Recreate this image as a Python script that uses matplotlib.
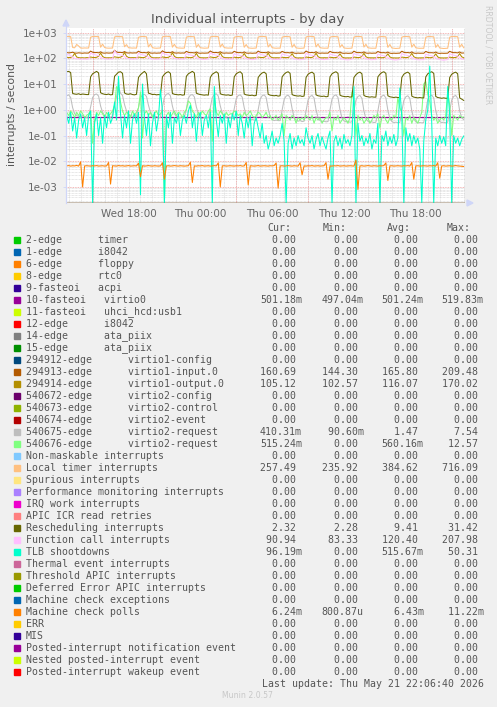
import numpy as np
import pandas as pd
import matplotlib
matplotlib.use("Agg")
import matplotlib.pyplot as plt
from matplotlib.patches import Rectangle
from matplotlib.ticker import FixedLocator, NullLocator

# ---------------- data ----------------
times = pd.date_range("2026-05-20 12:50", periods=200, freq="10min")

loc_timer = (
    [700, 705, 690, 262, 255, 345, 300, 250, 248, 252, 250]
    + [251, 660, 700, 706, 700, 695, 268, 355, 262, 250, 247, 249]
    + [250, 672, 712, 700, 698, 690, 280, 340, 256, 252, 249, 251]
    + [248, 650, 695, 704, 699, 685, 275, 362, 258, 249, 246, 250]
    + [252, 680, 708, 716, 702, 694, 270, 350, 260, 251, 248, 247]
    + [249, 665, 698, 702, 696, 688, 266, 345, 255, 250, 247, 249]
    + [251, 670, 705, 710, 700, 692, 272, 358, 259, 252, 249, 250]
    + [248, 655, 690, 700, 695, 684, 268, 342, 254, 248, 245, 247]
    + [250, 668, 702, 708, 700, 690, 274, 352, 257, 250, 246, 249]
    + [247, 660, 696, 703, 697, 686, 268, 346, 253, 247, 244, 246]
    + [249, 672, 706, 712, 701, 693, 276, 360, 258, 250, 247, 248]
    + [246, 658, 694, 701, 696, 685, 266, 340, 252, 246, 243, 245]
    + [248, 666, 700, 707, 699, 690, 272, 350, 256, 249, 246, 247]
    + [245, 652, 692, 700, 694, 683, 265, 344, 251, 245, 241, 244]
    + [247, 664, 698, 705, 698, 688, 270, 354, 255, 248, 244, 246]
    + [244, 656, 694, 702, 695, 684, 264, 342, 250, 244, 240, 243]
    + [246, 660, 700, 706, 698, 690, 268, 350, 257]
)

resched = (
    [30, 31, 28, 4.3, 4.1, 4.0, 4.2, 3.9, 4.1, 4.0, 3.9]
    + [3.9, 19, 25, 28, 31, 27, 4.6, 4.2, 4.0, 3.9, 4.1, 3.8]
    + [3.9, 20, 24, 29, 30, 26, 4.5, 4.1, 4.0, 4.2, 3.9, 3.8]
    + [4.0, 18, 23, 27, 31, 25, 4.4, 4.2, 3.9, 4.0, 3.8, 3.9]
    + [3.8, 19, 24, 28, 30, 26, 4.3, 4.0, 3.9, 3.8, 3.9, 3.7]
    + [3.8, 20, 25, 28, 31, 27, 4.4, 4.1, 3.9, 3.8, 3.7, 3.8]
    + [3.7, 18, 24, 27, 30, 26, 4.2, 3.9, 3.8, 3.7, 3.8, 3.6]
    + [3.7, 19, 25, 28, 30, 25, 4.1, 3.8, 3.7, 3.6, 3.7, 3.5]
    + [3.6, 18, 23, 27, 29, 25, 4.0, 3.7, 3.6, 3.5, 3.6, 3.4]
    + [3.5, 19, 24, 28, 30, 26, 3.9, 3.6, 3.5, 3.4, 3.5, 3.3]
    + [3.4, 18, 24, 27, 29, 25, 3.8, 3.5, 3.4, 3.3, 3.4, 3.2]
    + [3.3, 19, 25, 28, 30, 26, 3.7, 3.4, 3.3, 3.2, 3.3, 3.1]
    + [3.2, 18, 23, 27, 29, 25, 3.6, 3.3, 3.2, 3.1, 3.2, 3.1]
    + [3.1, 19, 24, 28, 30, 26, 3.5, 3.2, 3.1, 3.0, 3.1, 3.0]
    + [3.0, 18, 24, 27, 29, 25, 3.4, 3.1, 3.0, 2.9, 3.0, 2.9]
    + [2.9, 19, 25, 28, 30, 26, 3.3, 3.0, 2.9, 2.8, 2.9, 2.8]
    + [2.8, 18, 24, 27, 29, 25, 2.9, 2.6, 2.32]
)

virtio1_input = (
    [168, 162, 165, 172, 160, 158, 163, 160, 157, 161, 159]
    + [160, 190, 172, 166, 168, 163, 178, 161, 158, 162, 159, 161]
    + [162, 205, 175, 168, 170, 165, 182, 163, 160, 163, 160, 162]
    + [161, 188, 170, 165, 167, 162, 176, 160, 158, 161, 158, 160]
    + [160, 195, 173, 167, 169, 164, 180, 162, 159, 162, 159, 161]
    + [159, 186, 170, 165, 166, 161, 175, 160, 157, 160, 158, 160]
    + [161, 192, 172, 166, 168, 163, 179, 161, 158, 161, 159, 160]
    + [160, 187, 171, 165, 167, 162, 176, 160, 157, 160, 157, 159]
    + [159, 190, 172, 166, 168, 163, 178, 161, 158, 161, 158, 160]
    + [160, 185, 170, 164, 166, 161, 174, 159, 156, 159, 157, 159]
    + [159, 191, 172, 166, 168, 163, 179, 160, 157, 160, 158, 159]
    + [158, 186, 170, 165, 166, 162, 175, 159, 156, 159, 156, 158]
    + [159, 189, 171, 165, 167, 162, 177, 160, 157, 160, 157, 159]
    + [158, 184, 169, 164, 166, 161, 174, 158, 155, 158, 156, 158]
    + [159, 188, 171, 165, 167, 162, 177, 159, 156, 159, 157, 158]
    + [157, 185, 170, 164, 165, 161, 175, 158, 155, 158, 156, 157]
    + [158, 187, 171, 165, 166, 162, 176, 159, 160.7]
)

virtio1_output = (
    [110, 106, 108, 118, 155, 112, 106, 104, 105, 103, 106]
    + [105, 112, 108, 107, 109, 120, 160, 118, 106, 104, 105, 104]
    + [106, 114, 110, 108, 110, 122, 168, 120, 107, 105, 106, 105]
    + [105, 111, 108, 106, 108, 118, 158, 116, 105, 104, 105, 104]
    + [106, 113, 109, 107, 109, 121, 165, 119, 106, 105, 106, 105]
    + [105, 111, 107, 106, 108, 118, 156, 115, 105, 104, 104, 104]
    + [106, 113, 109, 107, 109, 120, 162, 118, 106, 105, 105, 105]
    + [105, 110, 107, 106, 108, 117, 154, 114, 105, 103, 104, 104]
    + [105, 112, 108, 107, 109, 119, 160, 117, 106, 104, 105, 104]
    + [104, 110, 107, 106, 107, 117, 152, 114, 104, 103, 104, 103]
    + [105, 112, 108, 107, 108, 119, 158, 116, 105, 104, 105, 104]
    + [104, 110, 107, 105, 107, 116, 150, 113, 104, 103, 104, 103]
    + [105, 111, 108, 106, 108, 118, 156, 115, 105, 104, 104, 104]
    + [104, 109, 106, 105, 107, 116, 150, 113, 104, 103, 103, 103]
    + [105, 111, 108, 106, 108, 118, 155, 115, 105, 103, 104, 104]
    + [104, 110, 107, 105, 107, 116, 149, 113, 104, 103, 103, 103]
    + [104, 111, 107, 106, 108, 117, 152, 114, 105.1]
)

func_call = (
    [140, 135, 130, 110, 100, 96, 94, 92, 95, 93, 92]
    + [94, 160, 145, 138, 132, 128, 112, 100, 96, 93, 92, 94]
    + [95, 200, 150, 140, 135, 130, 115, 102, 97, 94, 93, 95]
    + [94, 158, 142, 136, 130, 126, 110, 99, 95, 92, 91, 93]
    + [95, 170, 146, 139, 133, 129, 113, 101, 96, 93, 92, 94]
    + [93, 155, 140, 134, 129, 125, 109, 98, 94, 91, 90, 92]
    + [94, 165, 145, 138, 132, 128, 112, 100, 95, 92, 91, 93]
    + [92, 152, 139, 133, 128, 124, 108, 97, 93, 90, 89, 91]
    + [93, 160, 143, 136, 131, 127, 111, 99, 94, 91, 90, 92]
    + [91, 150, 138, 132, 127, 123, 107, 96, 92, 89, 88, 90]
    + [92, 158, 142, 135, 130, 126, 110, 98, 93, 90, 89, 91]
    + [90, 148, 137, 131, 126, 122, 106, 95, 91, 88, 87, 89]
    + [91, 155, 141, 134, 129, 125, 109, 97, 92, 89, 88, 90]
    + [89, 147, 136, 130, 125, 121, 105, 94, 90, 87, 86, 88]
    + [90, 153, 140, 133, 128, 124, 108, 96, 91, 88, 87, 89]
    + [88, 146, 135, 129, 124, 120, 104, 93, 89, 86, 84, 87]
    + [89, 150, 138, 132, 127, 123, 107, 95, 90.9]
)

virtio2_req_a = (
    [3.5, 3.8, 3.0, 1.2, 0.7, 0.6, 0.55, 0.5, 0.6, 0.55, 0.5]
    + [0.55, 1.3, 3.0, 3.9, 4.1, 3.4, 1.4, 0.8, 0.6, 0.55, 0.6, 0.5]
    + [0.6, 1.4, 3.2, 7.5, 4.4, 3.6, 1.6, 0.9, 0.65, 0.6, 0.55, 0.6]
    + [0.55, 1.2, 2.9, 3.8, 4.0, 3.3, 1.5, 0.8, 0.6, 0.5, 0.55, 0.5]
    + [0.5, 1.3, 3.1, 4.0, 4.3, 3.5, 1.4, 0.7, 0.55, 0.5, 0.5, 0.55]
    + [0.5, 1.1, 2.8, 3.7, 3.9, 3.2, 1.3, 0.7, 0.5, 0.45, 0.5, 0.5]
    + [0.5, 1.2, 3.0, 3.9, 4.2, 3.4, 1.4, 0.75, 0.55, 0.5, 0.45, 0.5]
    + [0.45, 1.1, 2.7, 3.6, 3.8, 3.1, 1.2, 0.6, 0.45, 0.4, 0.42, 0.4]
    + [0.4, 1.0, 2.6, 3.5, 3.8, 3.0, 1.1, 0.55, 0.42, 0.38, 0.4, 0.38]
    + [0.38, 1.0, 2.5, 3.4, 3.7, 3.0, 1.1, 0.5, 0.4, 0.36, 0.38, 0.35]
    + [0.36, 0.9, 2.4, 3.3, 3.6, 2.9, 1.0, 0.5, 0.38, 0.35, 0.36, 0.34]
    + [0.35, 1.0, 2.6, 3.5, 3.8, 3.0, 1.0, 0.48, 0.37, 0.34, 0.35, 0.33]
    + [0.34, 0.9, 2.4, 3.3, 3.6, 2.8, 0.9, 0.45, 0.36, 0.33, 0.34, 0.32]
    + [0.33, 0.9, 2.5, 3.4, 3.7, 2.9, 0.95, 0.46, 0.35, 0.32, 0.33, 0.32]
    + [0.32, 0.85, 2.3, 3.2, 3.5, 2.8, 0.9, 0.44, 0.34, 0.31, 0.32, 0.31]
    + [0.32, 0.9, 2.5, 3.4, 3.7, 2.9, 0.92, 0.45, 0.35, 0.32, 0.33, 0.31]
    + [0.33, 0.9, 2.4, 3.3, 3.6, 2.8, 0.9, 0.5, 0.41]
)

virtio2_req_b = (
    [0.8, 0.6, 0.9, 0.7, 0.5, 0.8, 0.6, 0.9, 0.7, 0.5, 0.6]
    + [0.7, 0.9, 0.05, 0.4, 0.8, 0.6, 0.9, 0.7, 0.5, 0.8, 0.6, 0.7]
    + [0.9, 1.5, 8.0, 6.0, 2.0, 0.9, 0.6, 0.8, 0.7, 0.5, 0.9, 0.6]
    + [0.8, 1.2, 5.0, 0.08, 0.7, 0.9, 0.6, 0.8, 0.5, 0.7, 0.9, 0.6]
    + [0.7, 0.9, 0.0, 0.6, 0.8, 0.5, 0.7, 0.9, 0.6, 0.8, 0.7, 0.5]
    + [0.8, 1.0, 2.2, 1.8, 0.9, 0.7, 0.5, 0.8, 0.6, 0.9, 0.7, 0.6]
    + [0.9, 1.1, 0.06, 3.0, 0.8, 0.6, 0.9, 0.7, 0.5, 0.8, 0.6, 0.7]
    + [0.7, 0.9, 0.8, 0.6, 0.7, 0.5, 0.8, 0.6, 0.7, 0.9, 0.6, 0.5]
    + [0.6, 0.8, 0.7, 0.5, 0.6, 0.8, 0.5, 0.6, 0.4, 0.5, 0.6, 0.4]
    + [0.5, 0.7, 0.1, 0.6, 0.5, 0.4, 0.6, 0.5, 0.3, 0.5, 0.4, 0.5]
    + [0.4, 0.6, 0.5, 0.4, 0.6, 0.3, 0.5, 0.4, 0.5, 0.3, 0.4, 0.5]
    + [0.5, 0.8, 0.15, 0.5, 0.4, 0.6, 0.3, 0.4, 0.5, 0.4, 0.3, 0.5]
    + [5.0, 2.0, 0.1, 0.6, 0.4, 0.5, 0.3, 0.4, 0.5, 0.3, 0.4, 0.6]
    + [0.5, 0.7, 0.2, 0.5, 0.6, 0.4, 0.3, 0.5, 0.4, 0.6, 0.5, 3.0]
    + [1.2, 0.8, 0.1, 0.5, 0.4, 0.6, 0.3, 0.5, 0.4, 0.3, 0.5, 0.8]
    + [10.0, 12.5, 4.0, 2.0, 0.6, 0.4, 0.5, 0.3, 0.4, 0.5, 0.4, 0.6]
    + [5.0, 1.5, 0.1, 0.6, 0.5, 0.4, 0.6, 0.5, 0.52]
)

tlb = (
    [0.6, 0.3, 0.8, 0.15, 0.5, 0.08, 0.4, 0.7, 0.2, 0.5, 0.1]
    + [0.6, 0.9, 0.0, 0.3, 0.7, 0.1, 0.5, 0.05, 0.6, 0.2, 0.8, 0.3]
    + [0.5, 2.0, 0.4, 20.0, 0.7, 0.08, 0.6, 0.2, 0.9, 0.05, 0.4, 0.7]
    + [0.3, 0.8, 0.0005, 10.0, 0.5, 0.1, 0.7, 0.04, 0.3, 0.8, 0.15, 0.5]
    + [6.0, 0.9, 0.0, 0.6, 0.2, 0.8, 0.05, 0.5, 0.3, 0.7, 0.1, 0.4]
    + [0.6, 0.3, 0.9, 1.5, 0.2, 0.7, 0.06, 0.5, 0.8, 0.1, 0.4, 0.6]
    + [0.2, 0.8, 0.0, 8.0, 0.4, 0.09, 0.6, 0.3, 0.7, 0.05, 0.5, 0.2]
    + [0.7, 0.4, 0.9, 0.1, 0.6, 0.3, 0.08, 0.5, 0.2, 0.6, 0.04, 0.3]
    + [0.5, 0.2, 0.08, 0.3, 0.05, 0.1, 0.03, 0.06, 0.15, 0.04, 0.08, 0.05]
    + [0.1, 0.3, 0.06, 0.0, 0.05, 0.12, 0.03, 0.08, 0.04, 0.1, 0.05, 0.07]
    + [0.04, 0.2, 0.08, 0.05, 0.1, 0.03, 0.07, 0.12, 0.04, 0.09, 0.05, 0.03]
    + [0.08, 0.15, 0.0, 0.06, 0.1, 0.04, 0.08, 0.03, 0.11, 0.05, 0.07, 0.04]
    + [0.1, 8.0, 0.0, 0.3, 0.06, 0.1, 0.04, 0.08, 0.05, 0.12, 0.03, 0.07]
    + [0.05, 0.3, 0.0, 0.1, 0.06, 0.15, 0.04, 0.09, 0.05, 0.11, 0.04, 0.08]
    + [7.0, 0.5, 0.0, 0.2, 0.06, 0.12, 0.04, 0.1, 0.05, 0.08, 0.03, 0.0]
    + [0.06, 0.4, 1.0, 50.0, 0.3, 0.0, 0.08, 0.04, 0.1, 0.05, 0.09, 0.04]
    + [8.0, 0.6, 0.0, 0.1, 0.05, 0.08, 0.04, 0.07, 0.096]
)

mc_polls = (
    [0.0066, 0.0068, 0.0065, 0.0067, 0.0066, 0.0069, 0.0065, 0.0095, 0.0010, 0.0066, 0.0067]
    + [0.0066, 0.0065, 0.0067, 0.0066, 0.0068, 0.0065, 0.0066, 0.0067, 0.0065, 0.0066, 0.0090, 0.0013]
    + [0.0067, 0.0066, 0.0065, 0.0068, 0.0066, 0.0067, 0.0065, 0.0066, 0.0068, 0.0065, 0.0066, 0.0067]
    + [0.0066, 0.0085, 0.0025, 0.0067, 0.0065, 0.0066, 0.0068, 0.0066, 0.0065, 0.0067, 0.0066, 0.0065]
    + [0.0066, 0.0088, 0.0020, 0.0066, 0.0067, 0.0065, 0.0066, 0.0068, 0.0066, 0.0065, 0.0067, 0.0066]
    + [0.0065, 0.0066, 0.0067, 0.0092, 0.0015, 0.0066, 0.0065, 0.0067, 0.0066, 0.0068, 0.0065, 0.0066]
    + [0.0067, 0.0065, 0.0066, 0.0068, 0.0066, 0.0087, 0.0010, 0.0066, 0.0067, 0.0065, 0.0066, 0.0067]
    + [0.0066, 0.0065, 0.0067, 0.0066, 0.0068, 0.0065, 0.0066, 0.0090, 0.0012, 0.0067, 0.0066, 0.0065]
    + [0.0066, 0.0068, 0.0065, 0.0066, 0.0067, 0.0066, 0.0065, 0.0067, 0.0066, 0.0068, 0.0086, 0.0009]
    + [0.0066, 0.0067, 0.0065, 0.0066, 0.0068, 0.0066, 0.0065, 0.0067, 0.0066, 0.0065, 0.0088, 0.0030]
    + [0.0066, 0.0065, 0.0067, 0.0066, 0.0068, 0.0065, 0.0066, 0.0067, 0.0065, 0.0066, 0.0067, 0.0089]
    + [0.0020, 0.0066, 0.0065, 0.0067, 0.0066, 0.0068, 0.0065, 0.0066, 0.0067, 0.0065, 0.0066, 0.0067]
    + [0.0066, 0.0065, 0.0112, 0.0008, 0.0066, 0.0067, 0.0065, 0.0066, 0.0068, 0.0066, 0.0065, 0.0067]
    + [0.0066, 0.0065, 0.0067, 0.0066, 0.0068, 0.0087, 0.0018, 0.0066, 0.0067, 0.0065, 0.0066, 0.0067]
    + [0.0066, 0.0065, 0.0067, 0.0066, 0.0068, 0.0065, 0.0090, 0.0020, 0.0066, 0.0067, 0.0065, 0.0066]
    + [0.0067, 0.0066, 0.0065, 0.0067, 0.0066, 0.0068, 0.0065, 0.0088, 0.0022, 0.0066, 0.0067, 0.0065]
    + [0.0066, 0.0067, 0.0065, 0.0066, 0.0068, 0.0066, 0.0065, 0.0064, 0.00624]
)

virtio0 = (
    [0.50, 0.50, 0.51, 0.50, 0.50, 0.50, 0.50, 0.50, 0.51, 0.50, 0.50]
    + [0.50, 0.50, 0.50, 0.51, 0.50, 0.50, 0.50, 0.50, 0.50, 0.50, 0.50, 0.50]
    + [0.50, 0.50, 0.50, 0.50, 0.50, 0.51, 0.50, 0.50, 0.50, 0.50, 0.50, 0.50]
    + [0.50, 0.50, 0.50, 0.50, 0.50, 0.50, 0.50, 0.51, 0.50, 0.50, 0.50, 0.50]
    + [0.50, 0.51, 0.50, 0.50, 0.50, 0.50, 0.50, 0.50, 0.50, 0.50, 0.50, 0.50]
    + [0.50, 0.50, 0.50, 0.50, 0.51, 0.50, 0.50, 0.50, 0.50, 0.50, 0.50, 0.50]
    + [0.50, 0.50, 0.50, 0.50, 0.50, 0.50, 0.50, 0.50, 0.50, 0.51, 0.50, 0.50]
    + [0.50, 0.50, 0.50, 0.50, 0.50, 0.50, 0.50, 0.50, 0.50, 0.50, 0.50, 0.50]
    + [0.50, 0.50, 0.51, 0.50, 0.50, 0.50, 0.50, 0.50, 0.50, 0.50, 0.50, 0.50]
    + [0.52, 0.51, 0.50, 0.50, 0.50, 0.50, 0.50, 0.50, 0.50, 0.50, 0.50, 0.50]
    + [0.50, 0.50, 0.50, 0.50, 0.50, 0.50, 0.51, 0.50, 0.50, 0.50, 0.50, 0.50]
    + [0.50, 0.50, 0.50, 0.50, 0.50, 0.50, 0.50, 0.50, 0.50, 0.50, 0.51, 0.50]
    + [0.50, 0.50, 0.50, 0.50, 0.50, 0.50, 0.50, 0.50, 0.50, 0.50, 0.50, 0.50]
    + [0.50, 0.50, 0.51, 0.50, 0.50, 0.50, 0.50, 0.50, 0.50, 0.50, 0.50, 0.50]
    + [0.50, 0.50, 0.50, 0.50, 0.50, 0.50, 0.50, 0.51, 0.50, 0.50, 0.50, 0.50]
    + [0.50, 0.50, 0.50, 0.50, 0.50, 0.50, 0.50, 0.50, 0.50, 0.50, 0.50, 0.50]
    + [0.50, 0.50, 0.51, 0.50, 0.50, 0.50, 0.50, 0.50, 0.50]
)

zero_series = np.zeros(200)

labels = [
    "2-edge      timer", "1-edge      i8042", "6-edge      floppy", "8-edge      rtc0",
    "9-fasteoi   acpi", "10-fasteoi   virtio0", "11-fasteoi   uhci_hcd:usb1",
    "12-edge      i8042", "14-edge      ata_piix", "15-edge      ata_piix",
    "294912-edge      virtio1-config", "294913-edge      virtio1-input.0",
    "294914-edge      virtio1-output.0", "540672-edge      virtio2-config",
    "540673-edge      virtio2-control", "540674-edge      virtio2-event",
    "540675-edge      virtio2-request", "540676-edge      virtio2-request",
    "Non-maskable interrupts", "Local timer interrupts", "Spurious interrupts",
    "Performance monitoring interrupts", "IRQ work interrupts", "APIC ICR read retries",
    "Rescheduling interrupts", "Function call interrupts", "TLB shootdowns",
    "Thermal event interrupts", "Threshold APIC interrupts", "Deferred Error APIC interrupts",
    "Machine check exceptions", "Machine check polls", "ERR", "MIS",
    "Posted-interrupt notification event", "Nested posted-interrupt event",
    "Posted-interrupt wakeup event",
]
colors = [
    "#00CC00", "#0066B3", "#FF8000", "#FFCC00", "#330099", "#990099", "#CCFF00",
    "#FF0000", "#808080", "#008F00", "#00487D", "#B35A00", "#B38F00", "#6B006B",
    "#8FB300", "#B30000", "#BEBEBE", "#80FF80", "#80C9FF", "#FFC080", "#FFE680",
    "#AA80FF", "#EE00CC", "#FF8080", "#666600", "#FFBFFF", "#00FFCC", "#CC6699",
    "#999900", "#00CC00", "#0066B3", "#FF8000", "#FFCC00", "#330099", "#990099",
    "#CCFF00", "#FF0000",
]
cur_vals = ["0.00"] * 5 + ["501.18m"] + ["0.00"] * 5 + ["160.69", "105.12"] + ["0.00"] * 3 + \
    ["410.31m", "515.24m", "0.00", "257.49"] + ["0.00"] * 4 + ["2.32", "90.94", "96.19m"] + \
    ["0.00"] * 4 + ["6.24m"] + ["0.00"] * 5
min_vals = ["0.00"] * 5 + ["497.04m"] + ["0.00"] * 5 + ["144.30", "102.57"] + ["0.00"] * 3 + \
    ["90.60m", "0.00", "0.00", "235.92"] + ["0.00"] * 4 + ["2.28", "83.33", "0.00"] + \
    ["0.00"] * 4 + ["800.87u"] + ["0.00"] * 5
avg_vals = ["0.00"] * 5 + ["501.24m"] + ["0.00"] * 5 + ["165.80", "116.07"] + ["0.00"] * 3 + \
    ["1.47", "560.16m", "0.00", "384.62"] + ["0.00"] * 4 + ["9.41", "120.40", "515.67m"] + \
    ["0.00"] * 4 + ["6.43m"] + ["0.00"] * 5
max_vals = ["0.00"] * 5 + ["519.83m"] + ["0.00"] * 5 + ["209.48", "170.02"] + ["0.00"] * 3 + \
    ["7.54", "12.57", "0.00", "716.09"] + ["0.00"] * 4 + ["31.42", "207.98", "50.31"] + \
    ["0.00"] * 4 + ["11.22m"] + ["0.00"] * 5

ytick_vals = [1e-3, 1e-2, 1e-1, 1e0, 1e1, 1e2, 1e3]
ytick_labels = ["1e-03", "1e-02", "1e-01", "1e+00", "1e+01", "1e+02", "1e+03"]
xtick_times = pd.to_datetime(["2026-05-20 18:00", "2026-05-21 00:00", "2026-05-21 06:00",
                              "2026-05-21 12:00", "2026-05-21 18:00"])
xtick_labels = ["Wed 18:00", "Thu 00:00", "Thu 06:00", "Thu 12:00", "Thu 18:00"]
major_vgrid = pd.date_range("2026-05-20 15:00", "2026-05-21 21:00", freq="6h")
minor_vgrid = pd.date_range("2026-05-20 13:00", "2026-05-21 22:00", freq="1h")
t_start = pd.Timestamp("2026-05-20 12:46:40")
t_end = pd.Timestamp("2026-05-21 22:06:40")

# ---------------- figure ----------------
W, H = 497, 707
fig = plt.figure(figsize=(W / 100, H / 100), dpi=100, facecolor="#F0F0F0")
L, R, T, B = 66, 465, 28, 203
ax = fig.add_axes([L / W, 1 - B / H, (R - L) / W, (B - T) / H])
ax.set_facecolor("white")
ax.set_yscale("log")
YMIN, YMAX = 2.4e-4, 1500
ax.set_ylim(YMIN, YMAX)
ax.set_xlim(t_start, t_end)

# grid
for dec in range(-4, 4):
    for m in range(2, 10):
        v = m * 10.0 ** dec
        if YMIN < v < YMAX:
            ax.axhline(v, color="#D0D0D0", lw=0.5, ls=(0, (1, 1)), zorder=0)
for v in ytick_vals:
    ax.axhline(v, color="#F0A0A0", lw=0.6, ls=(0, (1, 1)), zorder=0.5)
for t in minor_vgrid:
    ax.axvline(t, color="#D0D0D0", lw=0.5, ls=(0, (1, 1)), zorder=0)
for t in major_vgrid:
    ax.axvline(t, color="#F0A0A0", lw=0.6, ls=(0, (1, 1)), zorder=0.5)

# series
data_map = {
    5: virtio0, 11: virtio1_input, 12: virtio1_output, 16: virtio2_req_a, 17: virtio2_req_b,
    19: loc_timer, 24: resched, 25: func_call, 26: tlb, 31: mc_polls,
}
for i, (lab, col) in enumerate(zip(labels, colors)):
    vals = np.asarray(data_map.get(i, zero_series), dtype=float)
    vals = np.where(vals > 0, vals, YMIN)
    ax.plot(times, vals, color=col, lw=0.75, zorder=2 + i * 0.01)

ax.axvline(t_end, color="#999999", lw=0.8, zorder=3)

for s in ["top", "right", "bottom"]:
    ax.spines[s].set_visible(False)
ax.spines["left"].set_color("#CFD6F8")
ax.spines["left"].set_linewidth(0.8)

ax.yaxis.set_major_locator(FixedLocator(ytick_vals))
ax.yaxis.set_minor_locator(NullLocator())
ax.set_yticklabels(ytick_labels)
ax.tick_params(axis="y", which="major", length=2, width=0.6, color="#CFD6F8",
               labelsize=7.5, labelcolor="#666666", pad=4)
ax.set_xticks(xtick_times)
ax.set_xticklabels(xtick_labels)
ax.tick_params(axis="x", length=0, labelsize=7.5, labelcolor="#666666", pad=4)
ax.xaxis.set_minor_locator(NullLocator())
for lbl in ax.get_yticklabels() + ax.get_xticklabels():
    lbl.set_family("DejaVu Sans")

# arrows
fig.patches.append(plt.Polygon([[(L - 3) / W, 1 - (T - 2) / H], [(L + 3) / W, 1 - (T - 2) / H],
                                [L / W, 1 - (T - 8) / H]], closed=True, transform=fig.transFigure,
                               color="#CFD6F8", zorder=5))
fig.add_artist(plt.Line2D([L / W, L / W], [1 - B / H, 1 - (T - 3) / H], color="#CFD6F8", lw=0.8,
                          transform=fig.transFigure))
fig.patches.append(plt.Polygon([[(R + 2) / W, 1 - (B - 3) / H], [(R + 2) / W, 1 - (B + 3) / H],
                                [(R + 8) / W, 1 - B / H]], closed=True, transform=fig.transFigure,
                               color="#CFD6F8", zorder=5))

# titles
fig.text(248 / W, 1 - 19 / H, "Individual interrupts - by day", ha="center", va="center",
         fontsize=9.5, color="#555555", family="DejaVu Sans")
fig.text(12 / W, 1 - 115 / H, "interrupts / second", ha="center", va="center", rotation=90,
         fontsize=7.8, color="#555555", family="DejaVu Sans")
fig.text(488 / W, 1 - 5 / H, "RRDTOOL / TOBI OETIKER", ha="center", va="top", rotation=-90,
         fontsize=5.6, color="#C8C8C8", family="DejaVu Sans")

# legend
mono = "DejaVu Sans Mono"
fs = 7.15
tc = "#555555"
for hx, h in zip([267, 323, 387, 447], ["Cur:", "Min:", "Avg:", "Max:"]):
    fig.text(hx / W, 1 - 228 / H, h, ha="left", va="center", fontsize=fs, family=mono, color=tc)


def fmt(s):
    if s[-1].isalpha():
        return s.rjust(7)
    return (s + " ").rjust(7)


for i, (lab, col) in enumerate(zip(labels, colors)):
    y = 240 + 12 * i
    fig.patches.append(Rectangle((14 / W, 1 - (y + 3) / H), 6 / W, 6 / H, transform=fig.transFigure,
                                 color=col, zorder=5))
    fig.text(26 / W, 1 - y / H, lab, ha="left", va="center", fontsize=fs, family=mono, color=tc)
    for cx, vals in zip([260, 321.7, 381.7, 441.7], [cur_vals, min_vals, avg_vals, max_vals]):
        fig.text(cx / W, 1 - y / H, fmt(vals[i]), ha="left", va="center", fontsize=fs,
                 family=mono, color=tc)

fig.text(261.7 / W, 1 - 684 / H, "Last update: Thu May 21 22:06:40 2026", ha="left", va="center",
         fontsize=fs, family=mono, color=tc)
fig.text(247 / W, 1 - 696 / H, "Munin 2.0.57", ha="center", va="center", fontsize=5.6,
         color="#C8C8C8", family="DejaVu Sans")

fig.savefig("out.png", dpi=100, facecolor=fig.get_facecolor())
